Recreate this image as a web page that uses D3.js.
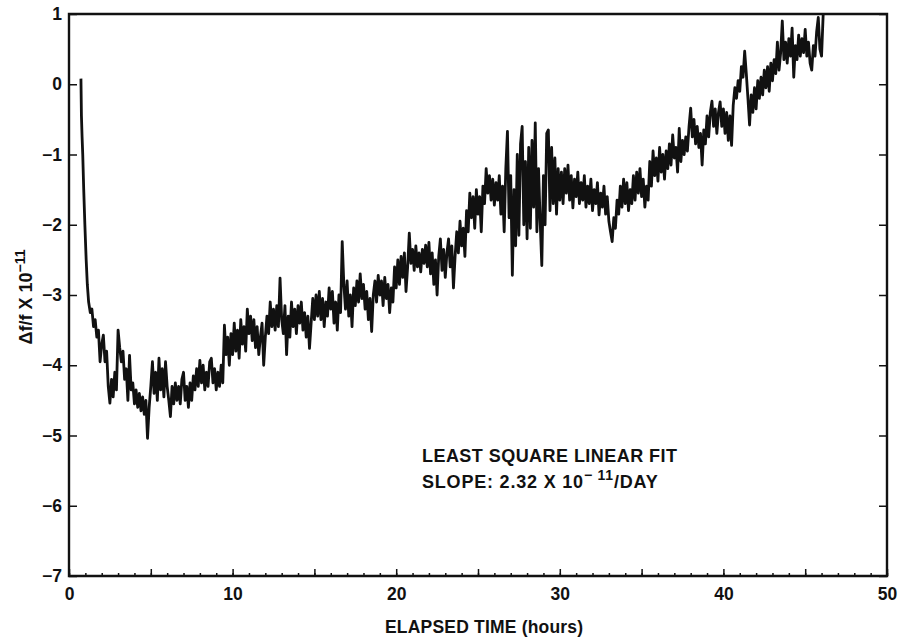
<!DOCTYPE html>
<head>
    <meta charset="utf-8">
    <script src="https://d3js.org/d3.v7.min.js"></script>
    <title>Elapsed time drift</title>
    <style>
        body { margin: 0; background: #fff; }
        svg { font-family: "Liberation Sans", Arial, Helvetica, sans-serif; }
        .tick text { font-size: 17.5px; font-weight: bold; fill: #111; }
        .tick line { stroke: #111; stroke-width: 1.5; }
        .trace { fill: none; stroke: #111; stroke-width: 2.8; stroke-linejoin: round; }
    </style>
</head>

<body>
    <svg id="chart" width="898" height="638"></svg>
    <script>

        // axis ranges and tick labels
        xDomain = [0, 50]
        yDomain = [-7, 1]
        xLabelTicks = [0, 10, 20, 30, 40, 50]
        yLabelTicks = [-7, -6, -5, -4, -3, -2, -1, 0, 1]

        // initial fall right after switch-on (hours, Δf/f x 1e-11)
        dropHours = [0.73, 0.76, 0.80, 0.84, 0.90, 0.97, 1.05, 1.12]
        dropValues = [0.08, -0.45, -0.75, -1.0, -1.5, -2.0, -2.5, -2.85]

        // trace read every 0.1 h, one list per stretch of hours
        stepHours = 0.1
        stretchStart = [1.2, 10.1, 20.1, 30.1, 40.1]

        hours01to10 = [
            -3.10, -3.25, -3.20, -3.45, -3.35, -3.60, -3.50, -3.95, -3.70,
            -3.57, -3.95, -3.80, -4.30, -4.54, -4.20, -4.45, -4.10, -4.35, -3.50,
            -3.75, -3.95, -3.80, -4.20, -4.05, -4.50, -3.86, -4.35, -4.25, -4.55,
            -4.35, -4.60, -4.40, -4.65, -4.45, -4.70, -4.50, -5.04, -4.60, -4.30,
            -3.95, -4.40, -4.10, -4.50, -3.90, -4.35, -4.05, -4.45, -3.95, -4.30,
            -4.50, -4.73, -4.30, -4.55, -4.25, -4.50, -4.30, -4.55, -4.20, -4.10,
            -4.50, -4.30, -4.60, -4.25, -4.50, -4.15, -4.35, -4.05, -4.30, -3.93,
            -4.25, -4.00, -4.35, -4.10, -4.30, -3.95, -3.90, -4.25, -4.05, -4.35,
            -4.10, -4.30, -4.00, -4.25, -3.43, -3.85, -3.60, -4.00, -3.55, -3.85
        ]

        hours10to20 = [
            -3.40, -3.80, -3.50, -3.90, -3.35, -3.70, -3.45, -3.80, -3.20, -3.55,
            -3.30, -3.65, -3.35, -3.75, -3.45, -3.85, -3.60, -3.40, -4.00, -3.60,
            -3.30, -3.55, -3.10, -3.45, -3.20, -3.50, -3.15, -3.45, -2.76, -3.35,
            -3.55, -3.15, -3.85, -3.30, -3.60, -3.10, -3.45, -3.20, -3.55, -3.15,
            -3.40, -3.10, -3.50, -3.25, -3.60, -3.30, -3.76, -3.40, -3.05, -3.35,
            -3.00, -3.30, -2.95, -3.35, -3.05, -3.45, -3.10, -3.30, -2.90, -3.20,
            -2.95, -3.40, -3.10, -3.50, -3.00, -3.25, -2.24, -2.85, -3.20, -2.80,
            -3.30, -3.00, -3.45, -2.90, -3.15, -2.80, -3.10, -2.70, -3.05, -2.85,
            -3.20, -2.95, -3.35, -3.05, -3.52, -3.00, -2.80, -3.10, -2.72, -3.00,
            -2.80, -3.15, -2.75, -3.05, -2.85, -3.25, -2.90, -3.10, -2.60, -2.90
        ]

        hours20to30 = [
            -2.50, -2.85, -2.45, -2.75, -2.40, -2.95, -2.60, -2.12, -2.55, -2.35,
            -2.65, -2.30, -2.60, -2.40, -2.67, -2.35, -2.55, -2.29, -2.60, -2.25,
            -2.70, -2.40, -2.85, -2.50, -3.00, -2.45, -2.20, -2.65, -2.35, -2.75,
            -2.40, -2.20, -2.60, -2.30, -2.90, -2.45, -2.10, -2.40, -1.95, -2.30,
            -2.05, -2.45, -1.80, -2.10, -1.55, -1.90, -1.60, -2.05, -1.50, -1.85,
            -1.60, -2.10, -1.45, -1.70, -1.20, -1.55, -1.30, -1.65, -1.35, -1.72,
            -1.40, -1.65, -1.30, -1.85, -1.45, -2.10, -1.20, -0.67, -1.90, -1.30,
            -2.72, -1.50, -2.30, -1.00, -2.15, -0.85, -0.60, -2.00, -1.10, -2.20,
            -0.90, -2.05, -0.80, -1.75, -0.55, -2.10, -1.20, -1.95, -2.58, -1.30,
            -2.00, -0.70, -0.65, -1.80, -0.90, -1.70, -1.05, -1.85, -1.20, -1.65
        ]

        hours30to40 = [
            -1.25, -1.70, -1.20, -1.55, -1.15, -1.65, -1.30, -1.76, -1.35, -1.60,
            -1.25, -1.70, -1.40, -1.65, -1.30, -1.75, -1.45, -1.70, -1.35, -1.80,
            -1.50, -1.70, -1.40, -1.86, -1.55, -1.75, -1.45, -1.85, -1.60, -1.95,
            -2.10, -2.24, -1.90, -2.05, -1.65, -1.85, -1.45, -1.75, -1.35, -1.70,
            -1.40, -1.80, -1.50, -1.70, -1.30, -1.65, -1.25, -1.55, -1.20, -1.60,
            -1.35, -1.75, -1.45, -1.65, -1.10, -1.45, -0.95, -1.30, -1.05, -1.38,
            -0.90, -1.25, -1.00, -1.35, -0.95, -1.20, -0.85, -1.15, -0.72, -1.05,
            -0.90, -1.25, -0.63, -1.10, -0.80, -1.00, -0.75, -0.95, -0.60, -0.34,
            -0.75, -0.50, -0.85, -0.60, -0.90, -0.70, -1.15, -0.65, -0.85, -0.45,
            -0.75, -0.40, -0.24, -0.60, -0.35, -0.70, -0.40, -0.25, -0.60, -0.35
        ]

        hours40to46 = [
            -0.70, -0.40, -0.80, -0.45, -0.87, -0.30, -0.05, -0.20, 0.05, -0.10,
            0.25, 0.10, 0.47, 0.15, -0.20, -0.58, -0.15, -0.40, -0.05, -0.35,
            0.05, -0.20, 0.10, -0.15, 0.20, -0.05, 0.25, -0.10, 0.30, 0.05,
            0.35, 0.15, 0.60, 0.20, 0.45, 0.90, 0.35, 0.60, 0.30, 0.65,
            0.40, 0.80, 0.10, 0.55, 0.35, 0.70, 0.40, 0.65, 0.45, 0.78,
            0.40, 0.60, 0.30, 0.20, 0.55, 0.40, 0.75, 0.95, 0.50, 0.40,
            1.00
        ]

        margin = ({ top: 14, right: 11, bottom: 62, left: 69 })
        width = 898
        height = 638

        var svg = d3.select("#chart")

        var x = d3.scaleLinear().domain(xDomain).range([margin.left, width - margin.right])
        var y = d3.scaleLinear().domain(yDomain).range([height - margin.bottom, margin.top])

        // build the point list
        var points = dropHours.map((h, i) => [h, dropValues[i]])
        var stretches = [hours01to10, hours10to20, hours20to30, hours30to40, hours40to46]
        stretches.forEach(function (vals, k) {
            vals.forEach(function (v, i) {
                points.push([stretchStart[k] + i * stepHours, v])
            })
        })

        svg.append("clipPath").attr("id", "plotClip")
            .append("rect")
            .attr("x", x(0)).attr("y", y(1))
            .attr("width", x(50) - x(0)).attr("height", y(-7) - y(1))

        var line = d3.line().x(d => x(d[0])).y(d => y(d[1]))

        svg.append("path")
            .datum(points)
            .attr("class", "trace")
            .attr("clip-path", "url(#plotClip)")
            .attr("d", line)

        // left axis, ticks inward
        svg.append("g")
            .attr("transform", `translate(${x(0)},0)`)
            .call(d3.axisLeft(y).tickValues(yLabelTicks).tickSize(-8).tickPadding(7))
            .call(g => g.select(".domain").remove())

        // right axis
        svg.append("g")
            .attr("transform", `translate(${x(50)},0)`)
            .call(d3.axisRight(y).tickValues(yLabelTicks).tickSize(-8).tickFormat(""))
            .call(g => g.select(".domain").remove())

        // bottom axis: hour ticks, bigger every 5 h, labels every 10 h
        svg.append("g")
            .attr("transform", `translate(0,${y(-7)})`)
            .call(d3.axisBottom(x).tickValues(d3.range(0, 51, 1)).tickSize(-3).tickFormat(""))
            .call(g => g.select(".domain").remove())
        svg.append("g")
            .attr("transform", `translate(0,${y(-7)})`)
            .call(d3.axisBottom(x).tickValues(d3.range(0, 51, 5)).tickSize(-7).tickFormat(""))
            .call(g => g.select(".domain").remove())
        svg.append("g")
            .attr("transform", `translate(0,${y(-7)})`)
            .call(d3.axisBottom(x).tickValues(xLabelTicks).tickSize(0).tickPadding(12))
            .call(g => g.select(".domain").remove())

        // frame
        svg.append("path")
            .attr("d", `M${x(0)},${y(1)}H${x(50)}V${y(-7)}H${x(0)}Z`)
            .attr("fill", "none")
            .attr("stroke", "#111")
            .attr("stroke-width", 2.4)

        // axis titles
        svg.append("text")
            .attr("x", 484)
            .attr("y", 633)
            .attr("text-anchor", "middle")
            .attr("font-size", 17.5)
            .attr("font-weight", "bold")
            .attr("fill", "#111")
            .attr("textLength", 198)
            .text("ELAPSED TIME (hours)")

        var yTitle = svg.append("text")
            .attr("transform", "translate(32,297) rotate(-90)")
            .attr("text-anchor", "middle")
            .attr("font-size", 18)
            .attr("font-weight", "bold")
            .attr("fill", "#111")
        yTitle.append("tspan").text("\u0394f/f X 10")
        yTitle.append("tspan").attr("dy", -7).attr("font-size", 14).text("\u221211")

        // fit note
        svg.append("text")
            .attr("x", 422)
            .attr("y", 462)
            .attr("font-size", 18)
            .attr("font-weight", "bold")
            .attr("fill", "#111")
            .attr("textLength", 255)
            .text("LEAST SQUARE LINEAR FIT")

        var slope = svg.append("text")
            .attr("x", 422)
            .attr("y", 488)
            .attr("font-size", 18)
            .attr("font-weight", "bold")
            .attr("letter-spacing", 0.8)
            .attr("fill", "#111")
        slope.append("tspan").text("SLOPE:  2.32 X 10")
        slope.append("tspan").attr("dy", -8).attr("font-size", 14).text("\u2212 11")
        slope.append("tspan").attr("dy", 8).text("/DAY")

    </script>
</body>
